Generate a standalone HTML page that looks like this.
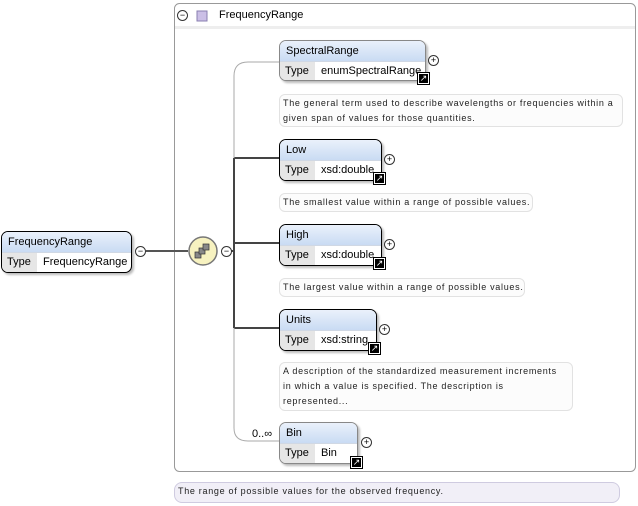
<!DOCTYPE html>
<html><head><meta charset="utf-8"><style>
body{margin:0;width:638px;height:506px;background:#fff;position:relative;overflow:hidden;font-family:"Liberation Sans",Tahoma,sans-serif;font-size:11px;color:#000}
.a{position:absolute}
.node{position:absolute;border:1px solid #000;border-radius:7px;background:#fff;box-shadow:2px 2px 2px #bbb;overflow:hidden}
.node.opt{border-color:#888}
.t{height:20px;line-height:20px;padding-left:6px;background:linear-gradient(#eaf1fb,#c9dbf3);border-bottom:1px solid #d0d8e4}
.r{height:19px;line-height:19px;display:flex}
.r .k{width:30px;padding-left:5px;background:#e6e6e6}
.r .v{padding-left:6px}
.doc{position:absolute;border:1px solid #e2e2e2;border-radius:6px;background:#fcfcfc;font-size:9px;letter-spacing:0.7px;line-height:15px;padding:1px 3px;color:#222;white-space:nowrap}
.pl{position:absolute;width:9px;height:9px;border:1px solid #333;border-radius:50%;background:#fff;font-size:9px;line-height:9px;text-align:center}
.lnk{position:absolute;width:9px;height:9px;background:#000;border:1px solid #fff;outline:1px solid #000;color:#fff;font-size:9px;line-height:9px;text-align:center}
</style></head><body>
<svg class="a" style="left:0;top:0" width="638" height="506">
<rect x="174.5" y="3.5" width="461" height="468" rx="5" fill="#fff" stroke="#999"/>
<rect x="175" y="26" width="460" height="3" fill="#eee"/>
<line x1="146" y1="251" x2="188" y2="251" stroke="#555" stroke-width="2"/>
<path d="M234 158 V328" stroke="#444" stroke-width="2" fill="none"/>
<path d="M231 251 H234" stroke="#444" stroke-width="2"/>
<path d="M234 158 H279 M234 243 H279 M234 328 H279" stroke="#444" stroke-width="2"/>
<path d="M279 62 H248 Q234 62 234 76 V158" stroke="#aaa" fill="none"/>
<path d="M234 328 V428 Q234 441 248 441 H279" stroke="#aaa" fill="none"/>
<circle cx="203" cy="251" r="14" fill="#f7f2c0" stroke="#777" stroke-width="1.5"/>
<rect x="195" y="252" width="6" height="6" fill="#888" stroke="#333" stroke-width=".7"/>
<rect x="199" y="248" width="6" height="6" fill="#888" stroke="#333" stroke-width=".7"/>
<rect x="203" y="244" width="6" height="6" fill="#888" stroke="#333" stroke-width=".7"/>
<rect x="197" y="11" width="10" height="10" fill="#cbbfe6" stroke="#8a7fb0"/>
</svg>
<div class="pl" style="left:177px;top:10px">−</div>
<div class="a" style="left:219px;top:9px">FrequencyRange</div>

<div class="node" style="left:1px;top:231px;width:129px;height:40px"><div class="t">FrequencyRange</div><div class="r"><span class="k">Type</span><span class="v">FrequencyRange</span></div></div>
<div class="pl" style="left:135px;top:246px">−</div>
<div class="pl" style="left:221px;top:246px">−</div>

<div class="node opt" style="left:279px;top:40px;width:145px;height:39px"><div class="t">SpectralRange</div><div class="r"><span class="k">Type</span><span class="v">enumSpectralRange</span></div></div>
<div class="pl" style="left:428px;top:55px">+</div><div class="lnk" style="left:418px;top:73px">↗</div>
<div class="doc" style="left:279px;top:94px;width:336px;height:29px">The general term used to describe wavelengths or frequencies within a<br>given span of values for those quantities.</div>

<div class="node" style="left:279px;top:139px;width:101px;height:40px"><div class="t">Low</div><div class="r"><span class="k">Type</span><span class="v">xsd:double</span></div></div>
<div class="pl" style="left:384px;top:154px">+</div><div class="lnk" style="left:374px;top:173px">↗</div>
<div class="doc" style="left:279px;top:193px;width:246px;height:15px">The smallest value within a range of possible values.</div>

<div class="node" style="left:279px;top:224px;width:101px;height:40px"><div class="t">High</div><div class="r"><span class="k">Type</span><span class="v">xsd:double</span></div></div>
<div class="pl" style="left:384px;top:239px">+</div><div class="lnk" style="left:374px;top:258px">↗</div>
<div class="doc" style="left:279px;top:278px;width:238px;height:15px">The largest value within a range of possible values.</div>

<div class="node" style="left:279px;top:309px;width:96px;height:40px"><div class="t">Units</div><div class="r"><span class="k">Type</span><span class="v">xsd:string</span></div></div>
<div class="pl" style="left:379px;top:324px">+</div><div class="lnk" style="left:369px;top:343px">↗</div>
<div class="doc" style="left:279px;top:362px;width:286px;height:45px">A description of the standardized measurement increments<br>in which a value is specified. The description is<br>represented...</div>

<div class="a" style="left:252px;top:428px">0..∞</div>
<div class="node opt" style="left:279px;top:422px;width:77px;height:40px"><div class="t">Bin</div><div class="r"><span class="k">Type</span><span class="v">Bin</span></div></div>
<div class="pl" style="left:361px;top:437px">+</div><div class="lnk" style="left:351px;top:457px">↗</div>

<div class="doc" style="left:174px;top:482px;width:438px;height:17px;background:#f1eff7;border-color:#cfcbe0;border-radius:8px">The range of possible values for the observed frequency.</div>
</body></html>
